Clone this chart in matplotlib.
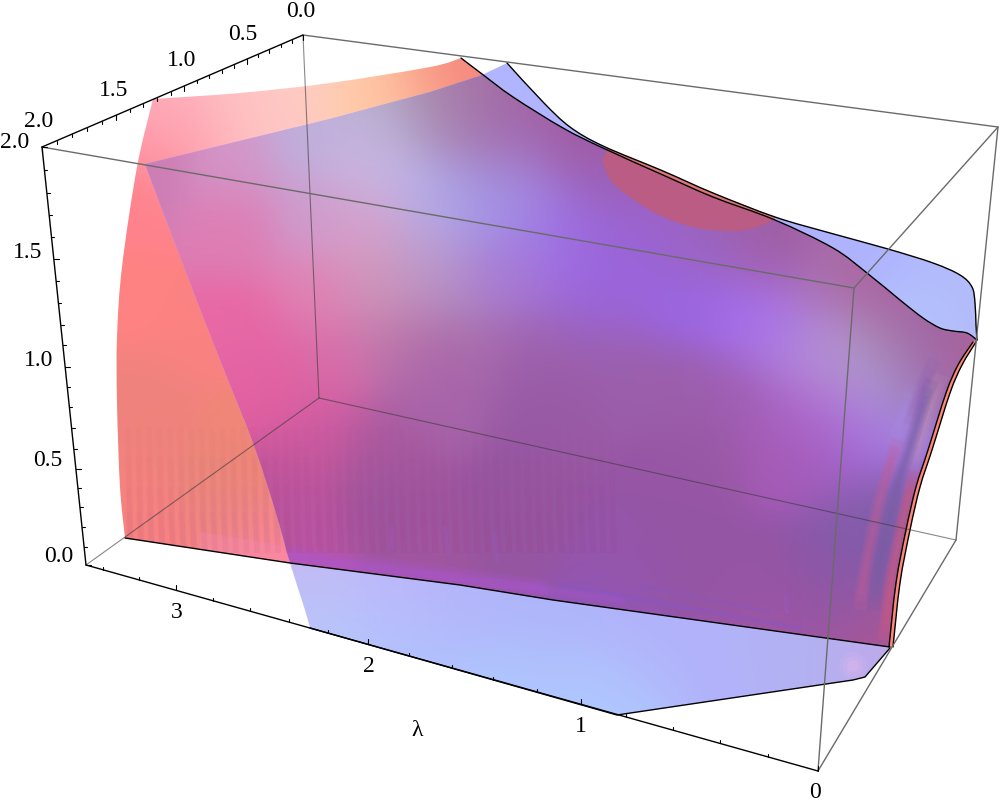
"""Two translucent sheets in a perspective box, drawn in picture coordinates."""
import numpy as np
import matplotlib
matplotlib.use("Agg")
import matplotlib.pyplot as plt
from matplotlib.patches import Polygon
from matplotlib.path import Path

plt.rcParams["font.family"] = ["Liberation Serif", "DejaVu Serif"]

# box corners
C_TL, C_TB, C_TR, C_TF = (42, 147), (303, 35), (998, 127), (854, 288)
C_BL, C_BB, C_BR, C_BF = (86, 565), (319, 398), (956, 540), (818, 771)

# axis ticks
z_major = [147, 259, 367, 469, 565]
z_minor = [170, 193, 215, 237, 281, 303, 325, 345, 387, 407, 428, 449, 488, 507, 527, 547]
z_labels = ["2.0", "1.5", "1.0", "0.5", "0.0"]
z_label_pos = [(15, 142), (28, 252), (39, 360), (48, 460), (59, 557)]

y_major = [42, 116, 184, 247, 303]
y_minor = [57, 72, 87, 102, 130, 143, 157, 171, 197, 209, 222, 234, 258, 269, 281, 292]
y_labels = ["2.0", "1.5", "1.0", "0.5", "0.0"]
y_label_pos = [(39, 121), (114, 90), (182, 60), (243, 34), (301, 11)]

lam_major = [176, 368, 581, 818]
lam_minor = [103, 139, 213, 250, 289, 328, 409, 452, 493, 537, 626, 673, 720, 768]
lam_labels = ["3", "2", "1", "0"]
lam_label_pos = [(177, 613), (369, 667), (581, 727), (815, 793)]

# sheet outlines
red_top = [(153, 99), (240, 93), (330, 83), (430, 67), (461, 58)]
red_left = [(153, 99), (137, 167), (122, 267), (117, 337), (117, 403), (120, 487), (125, 538)]
upper_edge = [(461, 58), (482, 74), (513, 97), (563, 128), (603, 148), (663, 175), (713, 197),
              (775, 220), (833, 248), (867, 273), (900, 300), (923, 318), (940, 328),
              (953, 331), (967, 333), (977, 340)]
blue_outer = [(507, 63), (543, 102), (570, 127), (603, 146), (663, 171), (713, 193), (775, 217),
              (830, 233), (888, 249), (933, 263), (960, 275), (972, 287), (975, 303), (976, 325),
              (977, 340)]
blue_left = [(145, 164), (185, 270), (220, 360), (253, 443), (275, 510), (290, 563), (305, 610),
             (310, 628)]
blue_top = [(145, 164), (330, 119), (430, 92), (482, 75), (507, 63)]
blue_under = [(310, 628), (617, 715), (853, 680), (865, 677), (890, 648)]
floor_edge = [(125, 538), (290, 563), (460, 585), (553, 600), (890, 647)]
sliver_outer = [(976, 342), (962, 365), (950, 393), (932, 450), (920, 487), (910, 530), (900, 583),
                (893, 647)]
sliver_inner = [(973, 342), (958, 365), (946, 393), (928, 450), (916, 487), (906, 530), (896, 583),
                (889, 647)]
cap_arc = [(607, 150), (602, 161), (612, 182), (637, 202), (663, 217), (697, 228), (737, 231),
           (763, 225), (775, 218)]
cap_upper = [(607, 148), (663, 171), (713, 193), (775, 217)]
cap_lower = [(607, 150), (663, 175), (713, 197), (775, 220)]
pink_band = [(200, 532), (280, 545), (292, 563), (200, 550)]

# colour anchors: x, y, r, g, b
red_colors = [(153, 100, 255, 175, 190), (230, 100, 255, 195, 195), (297, 93, 255, 205, 195),
              (363, 93, 255, 205, 170), (397, 90, 255, 190, 160), (430, 83, 248, 160, 135),
              (457, 70, 245, 130, 125), (197, 127, 255, 165, 180), (263, 120, 255, 195, 195),
              (147, 143, 255, 150, 165), (137, 193, 255, 130, 140), (125, 300, 255, 130, 130),
              (125, 400, 240, 130, 125), (200, 330, 250, 130, 130), (153, 413, 240, 130, 125),
              (203, 480, 235, 135, 125), (230, 447, 240, 135, 118), (130, 500, 245, 130, 125),
              (153, 527, 250, 130, 135), (240, 520, 238, 135, 130), (253, 557, 255, 135, 160)]
blue_colors = [(300, 580, 200, 180, 240), (307, 613, 190, 195, 250), (320, 633, 175, 205, 255),
               (387, 600, 192, 180, 250), (453, 597, 180, 180, 250), (520, 613, 175, 180, 250),
               (400, 640, 175, 198, 255), (500, 675, 175, 200, 255), (617, 705, 175, 200, 255),
               (650, 640, 178, 178, 250), (720, 670, 178, 178, 250), (800, 650, 178, 178, 242),
               (880, 655, 190, 170, 235), (500, 75, 178, 182, 255), (560, 115, 178, 182, 255),
               (640, 160, 175, 180, 255), (800, 230, 175, 180, 255), (880, 265, 175, 178, 253),
               (950, 295, 176, 180, 253), (935, 318, 185, 212, 255), (968, 325, 178, 178, 245)]
mix_colors = [(147, 167, 205, 125, 180), (230, 160, 212, 150, 200), (307, 137, 190, 175, 220),
              (380, 120, 185, 175, 210), (430, 103, 170, 150, 175), (463, 93, 165, 110, 165),
              (497, 127, 160, 95, 160), (563, 147, 160, 90, 160), (363, 160, 205, 185, 228),
              (420, 183, 188, 180, 235), (463, 200, 170, 168, 238), (497, 200, 160, 148, 232),
              (563, 227, 155, 112, 232), (613, 260, 155, 98, 228), (463, 143, 170, 140, 190),
              (513, 160, 165, 115, 190), (597, 193, 155, 95, 180), (230, 227, 222, 125, 180),
              (313, 210, 205, 155, 205), (363, 227, 215, 160, 200), (430, 243, 190, 160, 210),
              (497, 260, 170, 125, 215), (563, 260, 160, 110, 225), (230, 327, 232, 105, 165),
              (313, 293, 225, 130, 180), (380, 287, 205, 150, 185), (447, 287, 180, 145, 195),
              (513, 277, 165, 120, 210), (597, 310, 155, 100, 200), (263, 360, 228, 100, 165),
              (330, 360, 215, 110, 170), (397, 343, 190, 120, 170), (463, 343, 170, 110, 170),
              (530, 343, 160, 100, 175), (597, 360, 155, 95, 170), (430, 377, 170, 100, 170),
              (500, 197, 165, 150, 230), (533, 213, 160, 125, 235), (600, 280, 155, 102, 228),
              (683, 303, 155, 102, 232), (750, 313, 165, 110, 238), (790, 337, 175, 125, 225),
              (827, 353, 180, 150, 215), (867, 347, 175, 160, 195), (833, 280, 170, 110, 170),
              (767, 247, 160, 95, 165), (700, 247, 155, 100, 190), (633, 240, 155, 100, 200),
              (883, 297, 170, 95, 155), (900, 320, 170, 100, 160), (933, 337, 140, 90, 165),
              (883, 380, 170, 165, 205), (833, 397, 185, 125, 220), (850, 440, 165, 105, 220),
              (883, 420, 165, 130, 230), (800, 413, 170, 100, 200), (733, 397, 160, 95, 180),
              (667, 380, 155, 95, 170), (533, 397, 150, 90, 165), (700, 447, 155, 90, 165),
              (783, 447, 165, 90, 180), (817, 463, 165, 90, 185), (270, 397, 225, 95, 160),
              (320, 430, 205, 90, 160), (387, 447, 170, 90, 160), (453, 397, 165, 100, 170),
              (553, 413, 155, 90, 165), (287, 480, 190, 85, 155), (387, 490, 155, 85, 155),
              (520, 480, 150, 85, 160), (297, 530, 185, 85, 165), (420, 530, 160, 85, 160),
              (520, 530, 150, 85, 160), (680, 473, 150, 85, 165), (680, 540, 148, 85, 165),
              (747, 573, 150, 85, 165), (813, 573, 145, 85, 165), (847, 540, 130, 90, 170),
              (847, 607, 135, 90, 170), (863, 633, 180, 85, 145), (780, 623, 160, 85, 165),
              (870, 507, 130, 95, 170), (620, 560, 150, 85, 170), (910, 350, 165, 125, 175),
              (955, 350, 190, 100, 140), (925, 375, 150, 100, 180), (600, 600, 145, 85, 180)]

# soft streaks down the right side: offset from the sliver, first y, last y, r, g, b, alpha
streaks = [(-5, 470, 640, 205, 90, 130, 0.8), (-11, 375, 470, 200, 150, 170, 0.4),
           (-19, 380, 610, 120, 95, 165, 0.7), (-33, 440, 610, 195, 95, 150, 0.6),
           (-36, 385, 445, 170, 150, 235, 0.3), (-26, 360, 425, 140, 90, 180, 0.35)]

# purple bands along the floor: start, end, r, g, b, width, alpha
floor_bands = [((292, 555), (540, 588), 175, 85, 215, 14, 0.3),
               ((292, 558), (620, 600), 175, 85, 215, 8, 0.25),
               ((560, 585), (800, 628), 135, 85, 210, 4, 0.25),
               ((640, 585), (770, 612), 135, 85, 205, 3, 0.2)]

# small lilac wedges above the floor
wedges = [(392, 525, 392, 548), (445, 528, 448, 553), (495, 535, 497, 560), (785, 597, 787, 612)]

# faint stripes near the floor
stripe_x = np.arange(128, 620, 10.5)
stripe_tops = [430, 460, 490, 515]


def smooth(pts):
    # run a bezier through the read points and let the path flatten it
    p = np.array(pts, dtype=float)
    q = np.vstack([p[0], p, p[-1]])
    verts, codes = [p[0]], [Path.MOVETO]
    for i in range(1, len(q) - 2):
        verts += [q[i] + (q[i + 1] - q[i - 1]) / 6, q[i + 1] - (q[i + 2] - q[i]) / 6, q[i + 1]]
        codes += [Path.CURVE4] * 3
    poly = Path(np.array(verts), codes).to_polygons(closed_only=False)[0]
    return [tuple(v) for v in poly]


def paint(ax, outline, anchors, sigma):
    pts = np.array(anchors, dtype=float)
    gx, gy = np.meshgrid(np.arange(0, 1000, 3.0), np.arange(0, 809, 3.0))
    dist = (gx[..., None] - pts[:, 0]) ** 2 + (gy[..., None] - pts[:, 1]) ** 2
    w = np.exp(-dist / (2 * sigma ** 2)) + 1e-30
    rgb = (w[..., None] * pts[:, 2:][None, None, :, :]).sum(axis=2) / w.sum(axis=2, keepdims=True)
    im = ax.imshow(rgb / 255, extent=(0, 1002, 810, 0), interpolation="bilinear", zorder=2, aspect="auto")
    patch = Polygon(outline, closed=True, transform=ax.transData, fc="none", ec="none")
    ax.add_patch(patch)
    im.set_clip_path(patch)
    return patch


def line(ax, pts, color="black", lw=1.0, alpha=1.0, z=6):
    xs, ys = zip(*pts)
    ax.plot(xs, ys, color=color, lw=lw, alpha=alpha, zorder=z, solid_capstyle="round")


def on_edge(a, b, x=None, y=None):
    if x is not None:
        return x, a[1] + (b[1] - a[1]) * (x - a[0]) / (b[0] - a[0])
    return a[0] + (b[0] - a[0]) * (y - a[1]) / (b[1] - a[1]), y


fig = plt.figure(figsize=(10, 8.09), dpi=100)
ax = fig.add_axes([0, 0, 1, 1])
ax.set_xlim(0, 1000)
ax.set_ylim(809, 0)
ax.axis("off")

red_top = smooth(red_top)
red_left = smooth(red_left)
upper_edge = smooth(upper_edge)
blue_outer = smooth(blue_outer)
blue_left = smooth(blue_left)
sliver_outer = smooth(sliver_outer)
sliver_inner = smooth(sliver_inner)
cap_arc = cap_arc[:2] + smooth(cap_arc[1:])
cap_upper = smooth(cap_upper)
cap_lower = smooth(cap_lower)

red_outline = red_top + upper_edge + sliver_outer + floor_edge[::-1] + red_left[::-1]
blue_outline = blue_top + blue_outer + sliver_inner + blue_under[::-1] + blue_left[::-1]
mix_outline = (blue_top[:-1] + [p for p in upper_edge if p[0] > 482] + sliver_inner
               + [p for p in floor_edge[::-1] if p[0] >= 290] + [p for p in blue_left[::-1] if p[1] <= 563])

paint(ax, red_outline, red_colors, 30)
paint(ax, blue_outline, blue_colors, 38)
mix_patch = paint(ax, mix_outline, mix_colors, 32)

# everything inside the sheets above the floor edge
floor_patch = Polygon(red_left + floor_edge[1:] + [(890, 400), (117, 400)], closed=True,
                      transform=ax.transData, fc="none", ec="none")
ax.add_patch(floor_patch)

# stripes, stacked so they fade upward
for x in stripe_x:
    for top in stripe_tops:
        ln, = ax.plot([x, x + 3], [top, 550], color="#a84a78", lw=4, alpha=0.014 if x > 290 else 0.03, zorder=3)
        ln.set_clip_path(floor_patch)

ax.fill(*zip(*pink_band), color="#f58ab4", alpha=0.3, lw=0, zorder=3)

for start, end, r, g, b, width, a in floor_bands:
    for k in (1.0, 0.7, 0.4):
        ln, = ax.plot(*zip(start, end), color=(r / 255, g / 255, b / 255), lw=width * k, alpha=a / 2,
                      zorder=3, solid_capstyle="round")
        ln.set_clip_path(mix_patch)

for x0, y0, x1, y1 in wedges:
    ln, = ax.plot([x0, x1], [y0, y1], color="#9a60d8", lw=3, alpha=0.2, zorder=3)
    ln.set_clip_path(mix_patch)

# pale spot on the lower blue part
for r, a in [(14, 0.12), (10, 0.15), (6, 0.2)]:
    ax.add_patch(plt.Circle((853, 666), r, color="#f0bcf0", alpha=a, lw=0, zorder=3))

# streaks, stacked so the edges fade
sx, sy = np.array(sliver_inner, dtype=float).T
for off, first, last, r, g, b, a in streaks:
    for width, shrink in [(10, 0), (7, 8), (4.5, 16), (2, 24)]:
        ys = np.linspace(first + shrink, last - shrink, 40)
        ln, = ax.plot(np.interp(ys, sy, sx) + off, ys, color=(r / 255, g / 255, b / 255), lw=width,
                      alpha=a / 3.2, zorder=4, solid_capstyle="butt")
        ln.set_clip_path(mix_patch)

# red cap and sliver
ax.fill(*zip(*(cap_upper + cap_arc[::-1][1:])), color=(186 / 255, 92 / 255, 132 / 255), lw=0, zorder=4)
ax.fill(*zip(*(cap_upper + cap_lower[::-1])), color=(222 / 255, 120 / 255, 120 / 255), lw=0, zorder=4)
ax.fill(*zip(*(sliver_outer + sliver_inner[::-1])), color="#ff8878", lw=0, zorder=5)

# surface edges
for curve in (upper_edge, blue_outer, floor_edge, sliver_outer, sliver_inner, blue_under):
    line(ax, curve, lw=1.0)

# box, back edges show through the sheets
for a, b in [(C_TB, C_BB), (C_BB, C_BL), (C_BB, C_BR)]:
    line(ax, [a, b], color="#3a3a3a", lw=0.8, alpha=0.6, z=7)
for a, b in [(C_TB, C_TR), (C_TL, C_TF), (C_TF, C_BF), (C_TF, C_TR), (C_TR, C_BR), (C_BR, C_BF)]:
    line(ax, [a, b], color="#6a6a6a", lw=1.0, z=7)
for a, b in [(C_TL, C_BL), (C_TL, C_TB), (C_BL, C_BF)]:
    line(ax, [a, b], lw=1.0, z=8)

# ticks
for yv, size in [(v, 5) for v in z_major] + [(v, 3) for v in z_minor]:
    x0, y0 = on_edge(C_TL, C_BL, y=yv)
    line(ax, [(x0, y0), (x0 + size, y0)], lw=0.8, z=8)
for xv, size in [(v, 5) for v in y_major] + [(v, 3) for v in y_minor]:
    x0, y0 = on_edge(C_TL, C_TB, x=xv)
    line(ax, [(x0, y0), (x0, y0 + size)], lw=0.8, z=8)
for xv, size in [(v, 5) for v in lam_major] + [(v, 3) for v in lam_minor]:
    x0, y0 = on_edge(C_BL, C_BF, x=xv)
    line(ax, [(x0, y0), (x0, y0 - size)], lw=0.8, z=8)

for labels, pos in [(z_labels, z_label_pos), (y_labels, y_label_pos), (lam_labels, lam_label_pos)]:
    for s, (x, y) in zip(labels, pos):
        ax.text(x, y, s, fontsize=17, ha="center", va="center", zorder=9)
ax.text(417, 731, "λ", fontsize=17, ha="center", va="center", zorder=9)

fig.savefig("out.png", dpi=100)
